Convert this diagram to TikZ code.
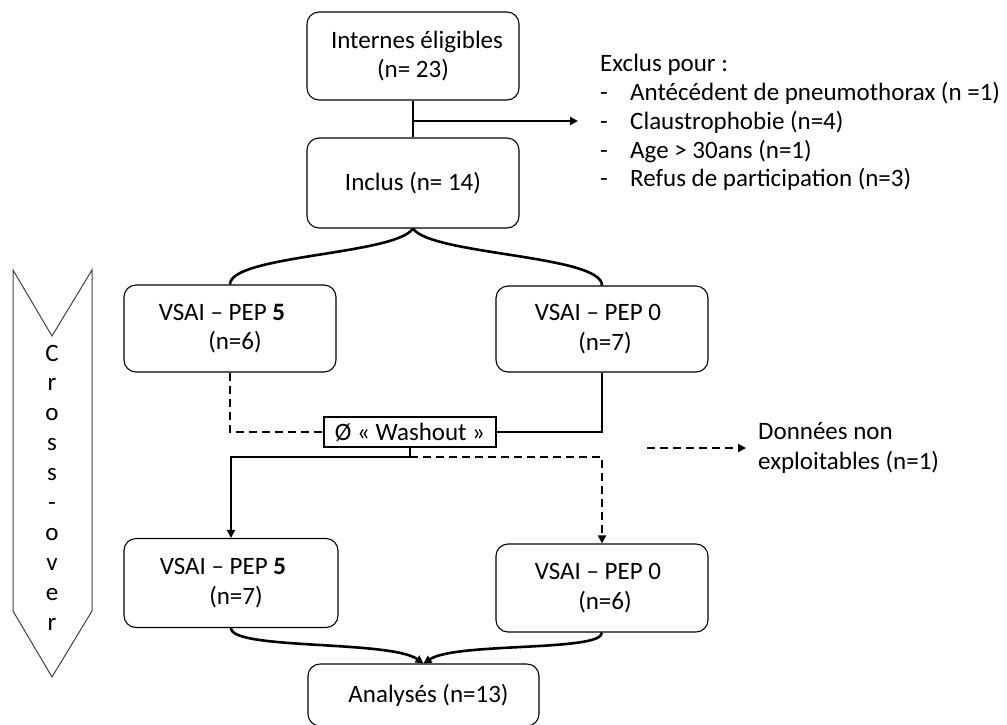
\documentclass[tikz,border=0pt]{standalone}
\usepackage{fontspec}
\setmainfont{Carlito}
\usetikzlibrary{arrows.meta}
\newcommand\fsz{\fontsize{25}{29.5}\selectfont}
\begin{document}
\begin{tikzpicture}[x=1pt,y=-1pt,
  box/.style={draw, rounded corners=12pt, line width=1.1pt, minimum width=212pt, minimum height=88pt, align=center, inner sep=0pt, font=\fsz},
  conn/.style={line width=2.6pt},
  dconn/.style={line width=2.2pt, dash pattern=on 8pt off 5pt},
  tip/.style={-{Triangle[length=8pt,width=8pt]}},
  txt/.style={font=\fsz, inner sep=0pt, anchor=base west}
]
\useasboundingbox (0,0) rectangle (1007,724);

% boxes
\node[box] (top) at (413,56) {\hspace*{8pt}Internes éligibles\\(n= 23)};
\node[box, minimum height=90pt] (inc) at (413,183) {Inclus (n= 14)};
\node[box, minimum height=87pt] (l1) at (230,328.5) {VSAI – PEP \textbf{5}\hspace*{16pt}\\\hspace*{10pt}(n=6)};
\node[box, minimum height=86pt] (r1) at (602,329) {VSAI – PEP 0\hspace*{8pt}\\\hspace*{6pt}(n=7)};
\node[draw, line width=1.1pt, minimum width=172pt, minimum height=30pt, inner sep=0pt, font=\fsz] (wash) at (410,432) {Ø « Washout »};
\node[box, minimum width=214pt, minimum height=89pt] (l2) at (231,583) {VSAI – PEP \textbf{5}\hspace*{16pt}\\\hspace*{10pt}(n=7)};
\node[box] (r2) at (602,588) {VSAI – PEP 0\hspace*{8pt}\\\hspace*{6pt}(n=6)};
\node[box, minimum width=231pt, minimum height=62pt] (ana) at (423.5,695) {\hspace*{10pt}Analysés (n=13)};

% exclusion text
\node[txt] (ex0) at (600,71) {Exclus pour :};
\node[txt] (d1) at (600,100.5) {-};
\node[txt] (ex1) at (630,100.5) {Antécédent de pneumothorax (n =1)};
\node[txt] (d2) at (600,129.5) {-};
\node[txt] (ex2) at (630,129.5) {Claustrophobie (n=4)};
\node[txt] (d3) at (600,158) {-};
\node[txt] (ex3) at (630,158) {Age > 30ans (n=1)};
\node[txt] (d4) at (600,186.5) {-};
\node[txt] (ex4) at (630,186.5) {Refus de participation (n=3)};

% top connectors
\draw[conn] (top.south) -- (inc.north);
\coordinate (ej) at (413,121);
\coordinate (ee) at (578,121);
\draw[conn, tip] (ej) -- (ee);

% split
\draw[conn] (inc.south) .. controls (395,255) and (230,255) .. (l1.north);
\draw[conn] (inc.south) .. controls (431,255) and (602,255) .. (r1.north);

% washout
\draw[dconn] (l1.south) |- (wash.west);
\draw[conn] (r1.south) |- (wash.east);
\coordinate (wj) at (410,457);
\draw[conn] (wash.south) -- (wj);
\draw[conn, tip] (wj) -| (l2.north);
\draw[dconn, tip] (wj) -| (r2.north);

% merge
\draw[conn, tip] (l2.south) .. controls (231,650) and (390,640) .. (ana.north);
\draw[conn, tip] (r2.south) .. controls (602,652) and (456,642) .. (ana.north);

% legend
\coordinate (la) at (647,448);
\coordinate (lb) at (746,448);
\draw[dconn, tip] (la) -- (lb);
\node[font=\fsz, inner sep=0pt, anchor=west, align=left] (leg) at (758,448) {Données non\\exploitables (n=1)};

% cross-over chevron
\draw[line width=1pt, draw=black!75] (13,270) -- (52,336) -- (92,270) -- (92,611) -- (52,677) -- (13,611) -- cycle;
\foreach \l [count=\i from 0] in {C,r,o,s,s,-,o,v,e,r}
  \node[font=\fsz, inner sep=0pt, anchor=base] (cv\i) at (52,361+\i*29.9) {\l};
\end{tikzpicture}
\end{document}
